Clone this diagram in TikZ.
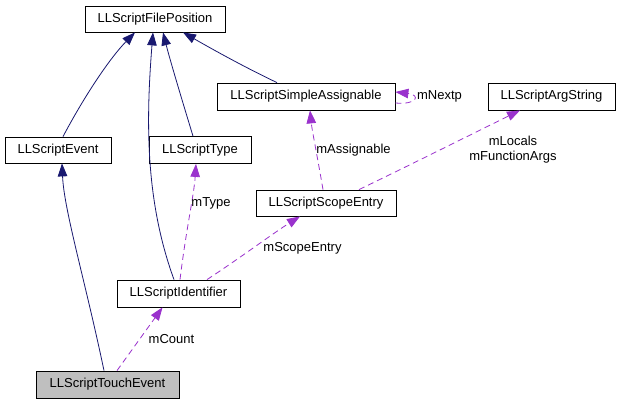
\documentclass[tikz,border=0pt]{standalone}
\usepackage{fontspec}
\setmainfont{Liberation Sans}
\usetikzlibrary{arrows.meta,calc}
\definecolor{inh}{HTML}{191970}
\definecolor{use}{HTML}{9A32CD}
\definecolor{grayfill}{HTML}{BFBFBF}
\begin{document}
\begin{tikzpicture}[x=1pt,y=-1pt,
  cls/.style={draw=black,line width=0.8pt,fill=white,rectangle,inner sep=0pt,font=\fontsize{13}{15}\selectfont},
  inhedge/.style={draw=inh,line width=0.8pt,-{Triangle[length=13pt,width=9.5pt]},color=inh},
  useedge/.style={draw=use,line width=0.8pt,dash pattern=on 6pt off 4pt,-{Triangle[length=13pt,width=9.5pt]},color=use},
  lbl/.style={font=\fontsize{13}{15}\selectfont,inner sep=0pt,align=center}]
\useasboundingbox (0,0) rectangle (619,403);
\fill[white] (0,0) rectangle (619,403);
\node[cls,minimum width=140pt,minimum height=26pt] (fp) at (155,19) {LLScriptFilePosition};
\node[cls,minimum width=106pt,minimum height=26pt] (ev) at (58,150) {LLScriptEvent};
\node[cls,minimum width=102pt,minimum height=27pt] (ty) at (200,150) {LLScriptType};
\node[cls,minimum width=178pt,minimum height=27pt] (sa) at (306,96.5) {LLScriptSimpleAssignable};
\node[cls,minimum width=127pt,minimum height=27pt] (ag) at (551.5,96.5) {LLScriptArgString};
\node[cls,minimum width=140pt,minimum height=26pt] (se) at (326,203) {LLScriptScopeEntry};
\node[cls,minimum width=123pt,minimum height=27pt] (id) at (178.5,293.5) {LLScriptIdentifier};
\node[cls,fill=grayfill,minimum width=143pt,minimum height=27pt] (te) at (107.5,384.5) {LLScriptTouchEvent};
% inheritance
\draw[inhedge] ($(ev.north)+(5,0)$) .. controls (85,95) and (110,58) .. ($(fp.south)+(-20,0)$);
\draw[inhedge] ($(id.north)+(-4.5,0)$) .. controls (145,200) and (146,120) .. ($(fp.south)+(-2,0)$);
\draw[inhedge] ($(ty.north)+(-7,0)$) .. controls (182,100) and (170,60) .. ($(fp.south)+(8,0)$);
\draw[inhedge] ($(sa.north)+(-29,0)$) .. controls (240,65) and (205,45) .. ($(fp.south)+(28,0)$);
\draw[inhedge] ($(te.north)+(-3.5,0)$) .. controls (85,280) and (64,210) .. ($(ev.south)+(4,0)$);
% usage
\draw[useedge] ($(te.north)+(9.5,0)$) -- ($(id.south)+(-16,0)$);
\node[lbl] (lcount) at (171.5,339) {mCount};
\draw[useedge] ($(id.north)+(1.5,0)$) .. controls (186,230) and (194,195) .. ($(ty.south)+(-4,0)$);
\node[lbl] (ltype) at (211,203) {mType};
\draw[useedge] ($(id.north)+(28.5,0)$) .. controls (240,258) and (275,232) .. ($(se.south)+(-26,0)$);
\node[lbl] (lscope) at (302.5,248) {mScopeEntry};
\draw[useedge] ($(se.north)+(-3,0)$) .. controls (318,160) and (312,130) .. ($(sa.south)+(4,0)$);
\node[lbl] (lassign) at (353.5,150) {mAssignable};
\draw[useedge] ($(se.north)+(33,0)$) .. controls (410,165) and (470,135) .. ($(ag.south)+(-31.5,0)$);
\node[lbl] (largs) at (513,150) {mLocals\\mFunctionArgs};
\coordinate (loopa) at ($(sa.east)+(0,6.5)$);
\coordinate (loopb) at ($(sa.east)+(0,-4.5)$);
\draw[useedge] (loopa) .. controls (417,105) and (421,95) .. (loopb);
\node[lbl] (lnext) at (439.5,96) {mNextp};
\end{tikzpicture}
\end{document}
